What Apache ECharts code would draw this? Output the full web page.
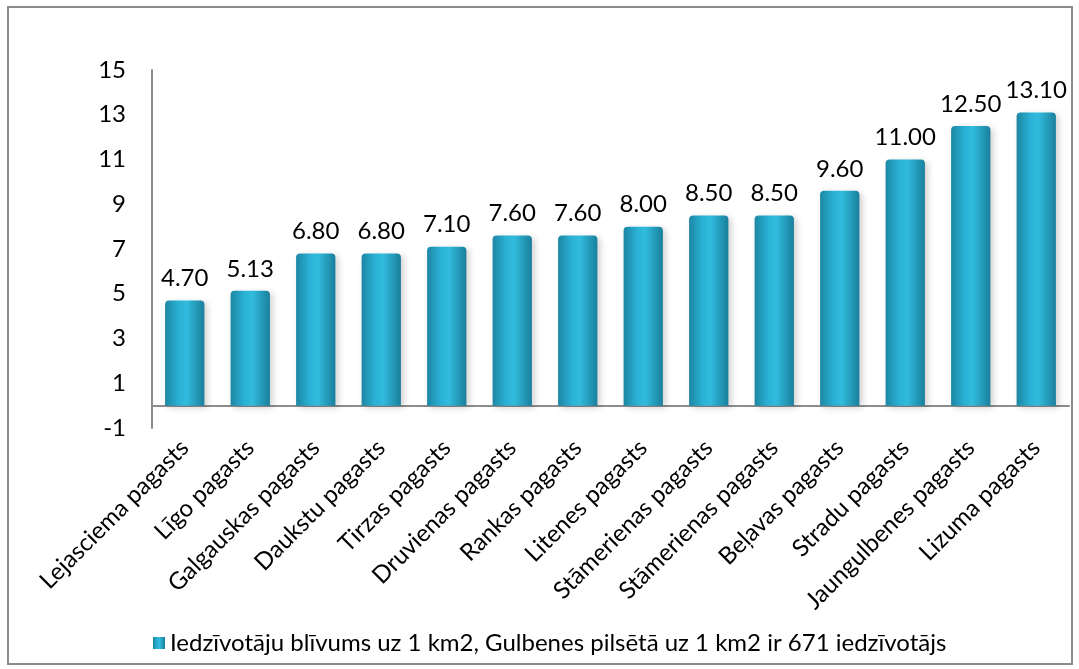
<!DOCTYPE html>
<html>
<head>
<meta charset="utf-8">
<script src="https://cdn.jsdelivr.net/npm/echarts@6/dist/echarts.min.js"></script>
<style>
  html, body { margin: 0; padding: 0; background: #fff; }
  #main { width: 1079px; height: 669px; }
</style>
</head>
<body>
<div id="main"></div>
<script>
// pagasti
var categories = [
  'Lejasciema pagasts', 'Līgo pagasts', 'Galgauskas pagasts', 'Daukstu pagasts',
  'Tirzas pagasts', 'Druvienas pagasts', 'Rankas pagasts', 'Litenes pagasts',
  'Stāmerienas pagasts', 'Stāmerienas pagasts', 'Beļavas pagasts', 'Stradu pagasts',
  'Jaungulbenes pagasts', 'Lizuma pagasts'
];
var density = [4.70, 5.13, 6.80, 6.80, 7.10, 7.60, 7.60, 8.00, 8.50, 8.50, 9.60, 11.00, 12.50, 13.10];
var yTicks = [-1, 1, 3, 5, 7, 9, 11, 13, 15];
var seriesName = 'Iedzīvotāju blīvums uz 1 km2, Gulbenes pilsētā uz 1 km2 ir 671 iedzīvotājs';

var chartDom = document.getElementById('main');
var myChart = echarts.init(chartDom);

var barColor = new echarts.graphic.LinearGradient(0, 0, 1, 0, [
  { offset: 0, color: '#1d86a3' },
  { offset: 0.35, color: '#2ab2d6' },
  { offset: 0.55, color: '#31bbdd' },
  { offset: 1, color: '#1a7f9c' }
]);

var option = {
  textStyle: { fontFamily: 'Lato' },
  graphic: [{
    type: 'rect',
    shape: { x: 8, y: 7, width: 1064, height: 657 },
    style: { fill: 'none', stroke: '#8c8c8c', lineWidth: 2 },
    silent: true
  }],
  grid: { left: 152, right: 10, top: 70, bottom: 241 },
  legend: {
    left: 148,
    top: 626,
    icon: 'rect',
    itemWidth: 12,
    itemHeight: 12,
    itemGap: 5,
    textStyle: { fontSize: 24, color: '#000', fontFamily: 'Lato' },
    data: [seriesName]
  },
  xAxis: {
    type: 'category',
    data: categories,
    axisLine: { onZero: true, lineStyle: { color: '#8c8c8c', width: 2 } },
    axisTick: { show: false },
    axisLabel: {
      interval: 0,
      rotate: 45,
      margin: 16,
      fontSize: 24,
      color: '#000',
      fontFamily: 'Lato'
    }
  },
  yAxis: {
    type: 'value',
    min: yTicks[0],
    max: yTicks[yTicks.length - 1],
    interval: 2,
    axisLine: { show: true, lineStyle: { color: '#8c8c8c', width: 2 } },
    axisTick: { show: false },
    splitLine: { show: false },
    axisLabel: { fontSize: 24, color: '#000', margin: 26, fontFamily: 'Lato' }
  },
  series: [{
    name: seriesName,
    type: 'bar',
    data: density,
    barWidth: '60%',
    itemStyle: {
      color: barColor,
      borderRadius: [4, 4, 0, 0],
      shadowColor: 'rgba(0,0,0,0.18)',
      shadowBlur: 6,
      shadowOffsetX: 3,
      shadowOffsetY: 2
    },
    label: {
      show: true,
      position: 'top',
      distance: 10,
      fontSize: 24,
      color: '#000',
      fontFamily: 'Lato',
      formatter: function (p) { return p.value.toFixed(2); }
    }
  }]
};
myChart.setOption(option);
</script>
</body>
</html>
